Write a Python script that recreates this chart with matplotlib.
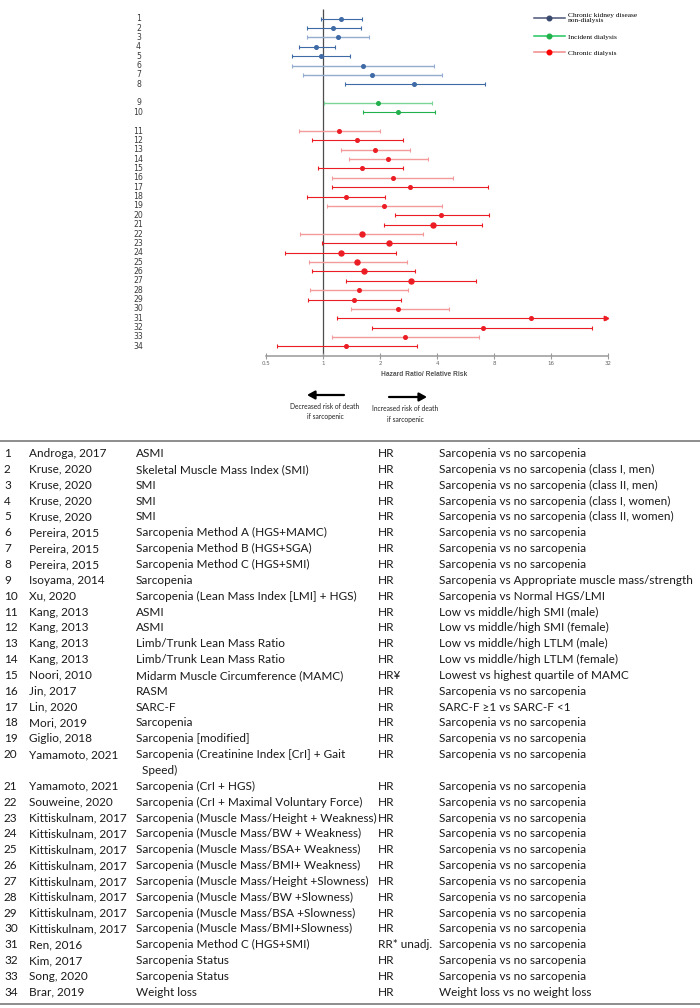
import numpy as np
import matplotlib
matplotlib.use('Agg')
import matplotlib.pyplot as plt
from matplotlib.lines import Line2D
from matplotlib.patches import ArrowStyle
from matplotlib.ticker import NullLocator

plt.rcParams['font.family'] = ['Lato', 'DejaVu Sans']

# ---- forest plot data (HR / RR with 95% CI), rows 1..34 ----
study_no = list(range(1, 35))
group = ['ckd'] * 8 + ['incident'] * 2 + ['chronic'] * 24
hr = [1.24, 1.13, 1.20, 0.92, 0.98, 1.62, 1.81, 3.04,
      1.95, 2.50,
      1.21, 1.52, 1.89, 2.21, 1.60, 2.33, 2.88, 1.32, 2.10, 4.22, 3.81, 1.61,
      2.24, 1.24, 1.52, 1.64, 2.91, 1.55, 1.45, 2.49, 12.5, 6.98, 2.70, 1.33]
ci_low = [0.98, 0.82, 0.82, 0.745, 0.69, 0.69, 0.78, 1.31,
          1.01, 1.62,
          0.745, 0.88, 1.24, 1.37, 0.945, 1.12, 1.12, 0.82, 1.05, 2.40, 2.10, 0.76,
          0.99, 0.63, 0.84, 0.88, 1.32, 0.85, 0.83, 1.41, 1.19, 1.82, 1.12, 0.57]
ci_high = [1.60, 1.59, 1.75, 1.16, 1.39, 3.86, 4.23, 7.19,
           3.78, 3.90,
           2.00, 2.65, 2.88, 3.59, 2.65, 4.86, 7.46, 2.12, 4.25, 7.49, 6.94, 3.38,
           5.03, 2.42, 2.78, 3.07, 6.44, 2.82, 2.57, 4.65, 31.3, 26.4, 6.63, 3.13]
x_ticks = [0.5, 1, 2, 4, 8, 16, 32]
x_tick_labels = ['0.5', '1', '2', '4', '8', '16', '32']
legend_labels = ['Chronic kidney disease\nnon-dialysis', 'Incident dialysis', 'Chronic dialysis']

# ---- table data ----
authors = ['Androga, 2017', 'Kruse, 2020', 'Kruse, 2020', 'Kruse, 2020', 'Kruse, 2020',
           'Pereira, 2015', 'Pereira, 2015', 'Pereira, 2015', 'Isoyama, 2014', 'Xu, 2020',
           'Kang, 2013', 'Kang, 2013', 'Kang, 2013', 'Kang, 2013', 'Noori, 2010',
           'Jin, 2017', 'Lin, 2020', 'Mori, 2019', 'Giglio, 2018', 'Yamamoto, 2021',
           'Yamamoto, 2021', 'Souweine, 2020'] + ['Kittiskulnam, 2017'] * 8 + \
          ['Ren, 2016', 'Kim, 2017', 'Song, 2020', 'Brar, 2019']
measures = ['ASMI', 'Skeletal Muscle Mass Index (SMI)', 'SMI', 'SMI', 'SMI',
            'Sarcopenia Method A (HGS+MAMC)', 'Sarcopenia Method B (HGS+SGA)',
            'Sarcopenia Method C (HGS+SMI)', 'Sarcopenia',
            'Sarcopenia (Lean Mass Index [LMI] + HGS)', 'ASMI', 'ASMI',
            'Limb/Trunk Lean Mass Ratio', 'Limb/Trunk Lean Mass Ratio',
            'Midarm Muscle Circumference (MAMC)', 'RASM', 'SARC-F', 'Sarcopenia',
            'Sarcopenia [modified]', 'Sarcopenia (Creatinine Index [CrI] + Gait\n  Speed)',
            'Sarcopenia (CrI + HGS)', 'Sarcopenia (CrI + Maximal Voluntary Force)',
            'Sarcopenia (Muscle Mass/Height + Weakness)', 'Sarcopenia (Muscle Mass/BW + Weakness)',
            'Sarcopenia (Muscle Mass/BSA+ Weakness)', 'Sarcopenia (Muscle Mass/BMI+ Weakness)',
            'Sarcopenia (Muscle Mass/Height +Slowness)', 'Sarcopenia (Muscle Mass/BW +Slowness)',
            'Sarcopenia (Muscle Mass/BSA +Slowness)', 'Sarcopenia (Muscle Mass/BMI+Slowness)',
            'Sarcopenia Method C (HGS+SMI)', 'Sarcopenia Status', 'Sarcopenia Status',
            'Weight loss']
effects = ['HR'] * 14 + ['HR¥'] + ['HR'] * 15 + ['RR* unadj.'] + ['HR'] * 3
comparisons = ['Sarcopenia vs no sarcopenia',
               'Sarcopenia vs no sarcopenia (class I, men)',
               'Sarcopenia vs no sarcopenia (class II, men)',
               'Sarcopenia vs no sarcopenia (class I, women)',
               'Sarcopenia vs no sarcopenia (class II, women)'] + \
              ['Sarcopenia vs no sarcopenia'] * 3 + \
              ['Sarcopenia vs Appropriate muscle mass/strength',
               'Sarcopenia vs Normal HGS/LMI',
               'Low vs middle/high SMI (male)', 'Low vs middle/high SMI (female)',
               'Low vs middle/high LTLM (male)', 'Low vs middle/high LTLM (female)',
               'Lowest vs highest quartile of MAMC', 'Sarcopenia vs no sarcopenia',
               'SARC-F ≥1 vs SARC-F <1'] + \
              ['Sarcopenia vs no sarcopenia'] * 16 + ['Weight loss vs no weight loss']

# styles
dark = {'ckd': '#3e6aa6', 'incident': '#22b04b', 'chronic': '#ec1c24'}
light = {'ckd': '#93acd0', 'incident': '#7bd496', 'chronic': '#f49a9a'}
light_rows = {3, 6, 7, 9, 11, 13, 14, 16, 19, 22, 25, 28, 30, 33}
big_rows = {21, 22, 23, 24, 25, 26, 27}

W, H = 700, 1008
fig = plt.figure(figsize=(7, 10.08), dpi=100)


def fx(px):
    return px / W


def fy(py):
    return 1 - py / H


# forest axes: x px 100..660, 1 at px 323, 57 px per doubling
x0_px, x1_px, one_px, dbl = 100, 660, 323, 57.0
ax = fig.add_axes([fx(x0_px), fy(355.7), (x1_px - x0_px) / W, 355.7 / H])
ax.set_xscale('log', base=2)
ax.set_xlim(2 ** ((x0_px - one_px) / dbl), 2 ** ((x1_px - one_px) / dbl))
ax.set_ylim(36.0, -2.0)

slots = [n - 1 + (n >= 9) + (n >= 11) for n in study_no]

ax.vlines(1, -1, 36, color='#4d4d4d', lw=0.9, zorder=1)

for n, s, g, v, lo, hi in zip(study_no, slots, group, hr, ci_low, ci_high):
    lc = light[g] if n in light_rows else dark[g]
    ms = 3.6 if n in big_rows else 2.6
    ax.errorbar(v, s, xerr=[[v - lo], [hi - v]], fmt='o', color=dark[g], ms=ms,
                ecolor=lc, elinewidth=1.0 if n in light_rows else 0.8,
                capsize=1.3, capthick=0.8, zorder=3)
    if n == 31:
        ax.plot(hi, s, marker='>', color=dark[g], ms=3.2, zorder=4)
    ax.text(0.0688, s, str(n), transform=ax.get_yaxis_transform(), ha='center',
            va='center', fontsize=5.6, color='#3a3a3a', family='DejaVu Sans')

for side in ['top', 'left', 'right']:
    ax.spines[side].set_visible(False)
ax.spines['bottom'].set_bounds(0.5, 32)
ax.spines['bottom'].set_color('#999999')
ax.spines['bottom'].set_linewidth(1.1)
ax.set_xticks(x_ticks)
ax.set_xticklabels(x_tick_labels)
ax.xaxis.set_minor_locator(NullLocator())
ax.tick_params(axis='x', direction='inout', length=4, width=0.8, color='#999999',
               labelsize=4, labelcolor='#666666', pad=1.5)
ax.set_yticks([])
for lab in ax.get_xticklabels():
    lab.set_family('DejaVu Sans')

fig.text(fx(424), fy(374), 'Hazard Ratio/ Relative Risk', ha='center', va='center',
         fontsize=4.8, fontweight='bold', color='#555555', family='Liberation Sans')

# legend
handles = []
for g in ['ckd', 'incident', 'chronic']:
    line_c = {'ckd': '#4a5578', 'incident': '#22c55e', 'chronic': '#f08a8a'}[g]
    mk_c = {'ckd': '#3a4a6e', 'incident': '#22b04b', 'chronic': '#ff0000'}[g]
    handles.append(Line2D([], [], color=line_c, lw=1.1, marker='o', ms=3.3,
                          mfc=mk_c, mec=mk_c))
ax.legend(handles, legend_labels, loc='upper left', bbox_to_anchor=(fx(530), fy(9)),
          bbox_transform=fig.transFigure, frameon=False, handlelength=4.2,
          handletextpad=0.5, labelspacing=1.35, borderpad=0,
          prop={'family': 'Liberation Serif', 'size': 5.3})

# direction arrows
astyle = ArrowStyle('-|>', head_length=0.45, head_width=0.25)
ax.annotate('', xy=(307, H - 395), xytext=(344, H - 395), xycoords='figure pixels',
            textcoords='figure pixels',
            arrowprops=dict(arrowstyle=astyle, color='black', lw=1.6, mutation_scale=10,
                            shrinkA=0, shrinkB=0))
ax.annotate('', xy=(427, H - 397), xytext=(389, H - 397), xycoords='figure pixels',
            textcoords='figure pixels',
            arrowprops=dict(arrowstyle=astyle, color='black', lw=1.6, mutation_scale=10,
                            shrinkA=0, shrinkB=0))
fig.text(fx(325), fy(411.5), 'Decreased risk of death\nif sarcopenic', ha='center',
         va='center', fontsize=4.8, linespacing=1.6, color='#222222')
fig.text(fx(405.5), fy(414), 'Increased risk of death\nif sarcopenic', ha='center',
         va='center', fontsize=4.8, linespacing=1.6, color='#222222')

# table rules
for py in [441, 1004]:
    fig.add_artist(Line2D([0, 1], [fy(py), fy(py)], color='#7a7a7a', lw=1.2,
                          transform=fig.transFigure))

# table rows
row0, step, fs = 453, 15.85, 8.5
col_x = [4, 29, 136, 378, 439]
k = 0
for n, a, m, e, c in zip(study_no, authors, measures, effects, comparisons):
    base = row0 + k * step + 4
    for x, t in zip(col_x, [str(n), a, None, e, c]):
        if t is not None:
            fig.text(fx(x), fy(base), t, ha='left', va='baseline', fontsize=fs,
                     color='#1a1a1a')
    lines = m.split('\n')
    for j, t in enumerate(lines):
        fig.text(fx(136), fy(base + j * step), t, ha='left', va='baseline',
                 fontsize=fs, color='#1a1a1a')
    k += len(lines)

fig.savefig('out.png', dpi=100)
